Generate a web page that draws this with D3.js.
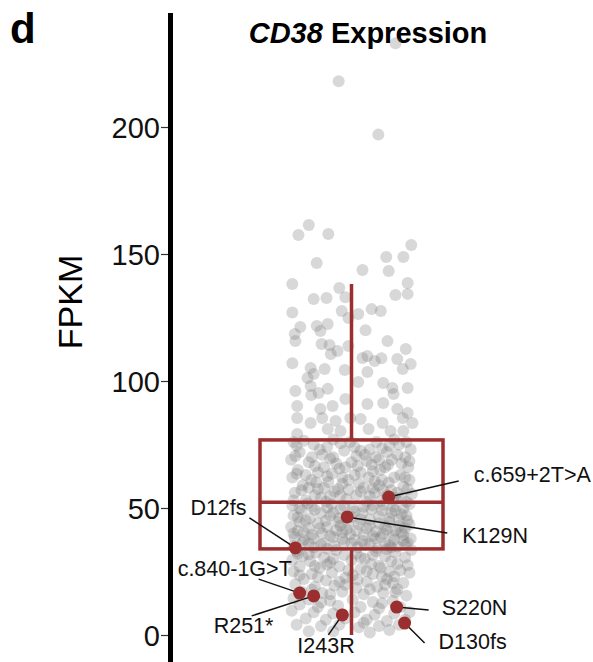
<!DOCTYPE html>
<html><head><meta charset="utf-8">
<script src="https://cdn.jsdelivr.net/npm/d3@7/dist/d3.min.js"></script>
<style>body{margin:0;background:#fff;} svg{display:block;font-family:"Liberation Sans",Arial,sans-serif;}</style>
</head><body>
<script>
// ---------- data ----------
const category = ["CD38"];
const yTicks = [0, 50, 100, 150, 200];
// box statistics: [lower whisker, Q1, median, Q3, upper whisker]
const boxStats = [0, 33.9, 52.3, 76.8, 138.2];
// jittered samples: horizontal jitter (-1..1 of jitter width) and FPKM value
const sampleJitter = [
 -0.21,0.72,0.44,-0.70,-0.87,-0.38,-0.57,0.18,0.57,0.85,0.98,0.61,-0.97,0.92,0.72,0.92,-0.20,-0.62,-0.41,-0.10,
 -0.97,-0.16,-0.05,0.11,0.33,0.48,-0.84,-0.57,-0.39,-0.51,0.23,-0.93,-0.92,0.59,0.89,-0.49,-0.36,-0.05,-0.34,-0.23,
 -0.97,0.26,0.18,0.38,0.49,0.75,0.97,0.84,0.26,-0.67,-0.62,-0.72,-0.44,-0.11,0.11,0.52,0.67,-0.92,-0.67,-0.54,
 -0.39,0.92,-0.66,-0.10,-0.89,0.26,0.52,0.69,-0.51,-0.31,0.75,0.92,-0.89,-0.67,-0.48,-0.26,-0.02,0.15,0.51,0.84,
 1.00,-0.89,-0.39,-0.18,0.28,0.64,0.85,
 // Q3 band
 -0.95,-0.62,-0.30,0.05,0.41,0.78,0.97,-0.85,-0.48,-0.12,0.22,0.58,0.88,-0.99,-0.70,-0.35,0.00,0.33,0.66,0.93,
 -0.88,-0.55,-0.20,0.15,0.47,0.80,-0.97,-0.66,-0.40,-0.05,0.28,0.61,0.95,-0.80,-0.45,-0.15,0.20,0.52,0.85,-0.93,
 -0.60,-0.28,0.08,0.38,0.72,0.99,-0.75,-0.42,-0.08,0.25,0.68,0.90,-0.78,-0.40,-0.02,0.30,0.62,0.90,-0.92,-0.30,
 0.08,0.45,0.75,-0.60,-0.10,0.25,0.55,0.82,-0.75,-0.32,0.05,0.38,0.70,-0.58,-0.22,0.12,0.45,0.75,-0.82,-0.50,
 -0.18,0.30,0.58,-0.95,0.48,0.92,-0.38,
 -0.90,-0.52,-0.18,0.15,0.50,0.70,-0.65,-0.25,0.40,0.60,0.95,-0.45,-0.90,0.10,0.35,0.88,-0.15,-0.70,0.50,0.15,
 -0.35,0.65,0.82,-0.55,-0.05,0.35,
 // Q2 band
 -0.97,-0.65,-0.32,0.02,0.35,0.68,0.95,-0.82,-0.50,-0.18,0.18,0.50,0.82,-0.95,-0.68,-0.35,0.00,0.30,0.62,0.92,
 -0.85,-0.55,-0.22,0.12,0.45,0.78,-0.99,-0.70,-0.40,-0.08,0.25,0.58,0.88,-0.78,-0.48,-0.15,0.20,0.52,0.85,-0.93,
 -0.62,-0.30,0.05,0.38,0.70,0.97,-0.80,-0.45,-0.12,0.22,0.55,0.88,-0.95,-0.62,-0.28,0.10,0.42,0.75,-0.72,-0.12,
 0.52,0.85,-0.60,0.05,0.33,0.65,-0.88,-0.20,0.45,0.78,-0.42,-0.05,0.30,0.62,0.95,-0.88,-0.25,0.40,0.72,-0.65,
 -0.02,0.35,0.68,-0.78,-0.15,0.18,0.85,-0.50,0.30,0.62,
 -0.85,-0.40,0.20,0.72,-0.30,0.90,-0.75,0.15,0.55,-0.52,-0.18,0.82,0.08,-0.95,-0.35,0.48,0.92,-0.70,0.00,0.65,
 -0.40,
 // Q1 band
 -0.90,-0.58,-0.25,0.08,0.40,0.72,0.98,-0.80,-0.45,-0.12,0.22,0.55,0.88,-0.97,-0.68,-0.35,0.00,0.32,0.65,0.92,
 -0.85,-0.52,-0.20,0.15,0.48,0.80,-0.95,-0.65,-0.32,0.02,0.35,0.70,0.95,-0.78,-0.42,-0.10,0.25,0.58,0.85,-0.92,
 -0.60,-0.28,0.08,0.42,0.75,-0.82,-0.48,-0.15,0.20,0.52,0.90,-0.95,-0.70,-0.35,0.02,0.35,0.68,-0.85,-0.55,-0.22,
 0.15,0.45,0.80,-0.98,-0.62,-0.30,0.05,0.38,0.70,0.95,-0.75,-0.42,-0.10,0.25,0.58,0.88,-0.90,-0.50,-0.20,0.12,
 0.45,0.78,-0.70,-0.30,0.30,0.62,-0.70,0.35,-0.40,0.45,-0.05,0.62,-0.55,0.10,-0.10,0.55,-0.35,0.72,-0.50,0.50,
 -0.15,0.20,
 -0.88,0.58,0.15,-0.30,0.75,-0.60,0.25,-0.85,0.50,-0.20,0.68,0.30,-0.65
];
const sampleFpkm = [
 218,233,197,161.4,157.5,157.9,146.5,143.7,148.8,148.8,153.5,143.3,138.2,138.6,133.9,134.3,136.6,132.3,132.7,133,
 127,127.6,124.8,126.4,128.3,127.6,121.3,121.7,122.4,119.7,120,118.5,115.7,115.7,112.6,114.6,114.2,113.8,110.6,111.8,
 107,109.8,109.1,107.9,109,108.7,106.7,104.7,103.5,105.1,102.8,101.2,104.7,104.3,99.6,99.2,97.2,96.1,98,95.3,
 96.9,97.2,94.5,92.9,90.2,90.9,91.3,94.9,89,90.2,89,87.4,85.4,83.5,85.4,84.3,85.4,85,83.5,85.4,
 83.5,79.1,81.1,80.3,81.1,80.3,80.3,
 76,75,77,74,76,75,73,72,71,72.5,71,72,70,69,68,69.5,68,67,69,66,
 65,64,65.5,64,65,63,62,61,62.5,61,62,60,61,59,58,59.5,58,57,58.5,56,
 55,56.5,55,56,54,55.5,53,52.5,53.5,52.5,53,52.5,76.5,74,76,73,74.5,76,70.5,70,
 70.5,69,71,66.5,66,68.5,66,67.5,63,63.5,63,60.5,62,60,57.5,59.5,59,56,57,54,
 55,54.5,55,53,52.8,57.5,60.2,
 74.5,73,75.5,72.5,73.5,77,70,67.5,70,67,68.5,66,63.5,66.5,64.5,62,62,58,61,56.5,
 54.5,57,54,57.5,57.2,57.8,
 51,50.5,51.5,50,51,50.5,51.5,49,48,49.5,48,49,47.5,47,46,47,46.5,45.5,46,45,
 44.5,44,44.5,43.5,44,43,42.5,42,42.5,41.5,42,41.5,42,40.5,40,40.5,39.5,40,39.5,38.5,
 38,38.5,37.5,38,37.5,38,36.5,36,36.5,35.5,36,35.5,35,34.5,35,34.5,34.2,34.8,51.8,50.8,
 51.2,49.8,49.3,48.5,49.5,48.2,46.3,46,46.8,45.5,45,44.2,43.2,44.5,43.5,41,41.2,40.8,41,39.5,
 39.8,39,39.2,37.5,37.8,37,37.2,35.5,35.8,35.2,
 50,50.2,50.5,49,48.2,47,45,45.5,42.8,42,43,40.5,41,40,39.2,38.5,36.2,36,36,34.5,
 34,
 33,32.5,33.5,32,33,32.5,33.5,31,30.5,31.5,30,31,30.5,29.5,29,28.5,29.5,28,29,27.5,
 27,26.5,27,26,26.5,25.5,25,24,24.5,23.5,24,23,24.5,22,21.5,22.5,21,22,20.5,20,
 19,19.5,18.5,19,18,17,16.5,17,16,16.5,15.5,14.5,14,13.5,14,13,13.5,12,11,11.5,
 11,10.5,11,9.5,9,8.5,9,8,8.5,9,6.5,6,6.5,6,5.5,6,4,3.5,4,3,
 3.5,4,1.5,1.5,1,2,31.8,31.5,27.8,27.3,25.5,25,22.8,21.8,19.8,19.8,16,16.8,12.8,12.5,
 8.2,4.8,
 32,33.8,30.5,30,28,27.2,25.2,23.5,23,21,20.5,18,17.8
];
// highlighted mutant samples
const mutLabels = ["c.659+2T>A","K129N","D12fs","c.840-1G>T","R251*","I243R","S220N","D130fs"];
const mutJitter = [0.61,-0.07,-0.92,-0.85,-0.62,-0.15,0.74,0.87];
const mutFpkm   = [54.3,46.5,34.3,16.5,15.4,7.9,11.0,4.7];

// ---------- layout (not data) ----------
const W = 593, H = 662;
const red = "#9b2f30";
// label text offset [dx,dy] and leader-line end offset [lx,ly] relative to point (px)
const labelLayout = [
 [85,-15,70,-16],[115,26,100,16],[-105,-33,-46,-30],[-122,-17,-41,-14],
 [-100,37,-62,20],[-45,38,-14,20],[45,8,32,3],[34,26,20,20]
];

const svg = d3.select("body").append("svg").attr("width",W).attr("height",H);

const y = d3.scaleLinear().domain([0,200]).range([635,127]);
const xBand = d3.scaleBand().domain(category).range([260,443]).padding(0);
const cx = xBand("CD38") + xBand.bandwidth()/2;
const xJit = d3.scaleLinear().domain([-1,1]).range([cx-61, cx+61]);

// panel letter
svg.append("text").attr("x",10).attr("y",43).attr("font-size",42).attr("font-weight","bold").text("d");

// title
const title = svg.append("text").attr("x",368).attr("y",43).attr("text-anchor","middle")
 .attr("font-size",29).attr("font-weight","bold");
title.append("tspan").attr("font-style","italic").text("CD38");
title.append("tspan").text(" Expression");

// y label
svg.append("text").attr("transform","translate(82,302) rotate(-90)").attr("text-anchor","middle")
 .attr("font-size",34).text("FPKM");

// axis
const axis = d3.axisLeft(y).tickValues(yTicks).tickSize(7).tickPadding(1).tickFormat(d3.format("d"));
const gA = svg.append("g").attr("transform","translate(168,0)").call(axis);
gA.select(".domain").remove();
gA.selectAll(".tick line").attr("stroke","#333").attr("stroke-width",1.2);
gA.selectAll(".tick text").attr("font-size",29).attr("font-family","Liberation Sans, Arial, sans-serif").attr("fill","#111").attr("dy","0.36em");
svg.append("line").attr("x1",170.5).attr("x2",170.5).attr("y1",13).attr("y2",H).attr("stroke","#000").attr("stroke-width",5);

// gray jittered samples
const samples = sampleFpkm.map((v,i)=>({v, j:sampleJitter[i]}));
svg.append("g").selectAll("circle").data(samples).join("circle")
 .attr("cx",d=>xJit(d.j)).attr("cy",d=>y(d.v)).attr("r",6)
 .attr("fill","#7a7a7a").attr("fill-opacity",0.29);

// box plot
const gB = svg.append("g").attr("stroke",red).attr("stroke-width",3.5).attr("fill","none");
gB.append("line").attr("x1",cx).attr("x2",cx).attr("y1",y(boxStats[3])).attr("y2",y(boxStats[4]));
gB.append("line").attr("x1",cx).attr("x2",cx).attr("y1",y(boxStats[1])).attr("y2",y(boxStats[0]));
gB.append("rect").attr("x",xBand("CD38")).attr("width",xBand.bandwidth())
 .attr("y",y(boxStats[3])).attr("height",y(boxStats[1])-y(boxStats[3]));
gB.append("line").attr("x1",xBand("CD38")).attr("x2",xBand("CD38")+xBand.bandwidth())
 .attr("y1",y(boxStats[2])).attr("y2",y(boxStats[2]));

// mutants
const muts = mutLabels.map((n,i)=>({n, px:xJit(mutJitter[i]), py:y(mutFpkm[i]), L:labelLayout[i]}));
svg.append("g").selectAll("line").data(muts).join("line")
 .attr("x1",d=>d.px).attr("y1",d=>d.py).attr("x2",d=>d.px+d.L[2]).attr("y2",d=>d.py+d.L[3])
 .attr("stroke","#111").attr("stroke-width",1.5);
svg.append("g").selectAll("circle").data(muts).join("circle")
 .attr("cx",d=>d.px).attr("cy",d=>d.py).attr("r",6.5).attr("fill",red);
svg.append("g").selectAll("text").data(muts).join("text")
 .attr("x",d=>d.px+d.L[0]).attr("y",d=>d.py+d.L[1]).attr("font-size",21.5).attr("fill","#111").text(d=>d.n);
</script>
</body></html>
